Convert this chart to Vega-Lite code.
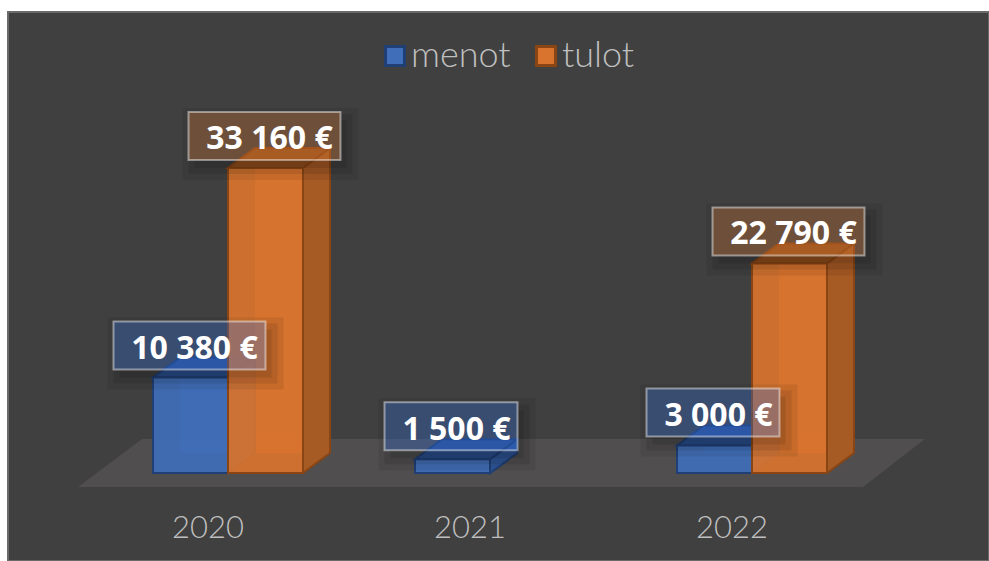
{
"$schema":"https://vega.github.io/schema/vega-lite/v6.json",
"width":981,"height":549,
"autosize":{"type":"none"},
"padding":{"left":8,"top":12,"right":0,"bottom":0},
"background":"#ffffff",
"view":{"fill":"#404040","stroke":"#6a6a6a","strokeWidth":2},
"data":{"values":[
{"year":"2020","series":"menot","value":10380,"label":"10 380 €"},
{"year":"2020","series":"tulot","value":33160,"label":"33 160 €"},
{"year":"2021","series":"menot","value":1500,"label":"1 500 €"},
{"year":"2022","series":"menot","value":3000,"label":"3 000 €"},
{"year":"2022","series":"tulot","value":22790,"label":"22 790 €"}
]},
"encoding":{
"x":{"field":"year","type":"nominal","title":null,"scale":{"range":[89,875],"paddingInner":0.4275,"paddingOuter":0.21375},"axis":{"offset":-24,"domain":false,"ticks":false,"labelAngle":0,"labelFont":"Lato","labelFontWeight":300,"labelFontSize":31,"labelColor":"#bfbfbf","labelPadding":0,"labelOffset":-20,"labelBaseline":"alphabetic","grid":false}},
"xOffset":{"field":"series","type":"nominal","scale":{"domain":["menot","tulot"],"padding":0,"paddingInner":0,"paddingOuter":0}},
"y":{"field":"value","type":"quantitative","title":null,"scale":{"domain":[0,43489],"range":[461,61],"nice":false,"zero":false},"axis":null}
},
"layer":[
{"transform":[{"filter":"datum.year=='2021'"}],
 "mark":{"type":"point","filled":true,"size":4,"opacity":1,"shape":"M-374.5,14L410.5,14L472.5,-34L-310.5,-34Z","fill":"#504e4e"},
 "encoding":{"y":{"datum":0}}},
{"mark":{"type":"bar","width":75,"yOffset":-20,"y2Offset":-20,"opacity":0.9},
 "encoding":{"xOffset":{"value":{"expr":"datum.series=='menot'?64.5:139.5"}},"y2":{"datum":0},"fill":{"field":"series","scale":{"domain":["menot","tulot"],"range":["#3a62a8","#c96a28"]},"legend":null}}},
{"transform":[{"filter":"datum.value>=3000"}],
 "mark":{"type":"bar","width":27,"y2Offset":-20},
 "encoding":{"xOffset":{"value":{"expr":"datum.series=='menot'?88.5:163.5"}},"y2":{"datum":0},"fill":{"field":"series","scale":{"domain":["menot","tulot"],"range":["#2f5597","#a65a24"]},"legend":null}}},
{"transform":[{"filter":"datum.value>=3000"}],
 "mark":{"type":"point","filled":true,"size":4,"opacity":1,"shape":"M37.5,0L64.5,-20L64.5,0Z"},
 "encoding":{"fill":{"field":"series","scale":{"domain":["menot","tulot"],"range":["#2f5597","#a65a24"]},"legend":null}}},
{"transform":[{"filter":"datum.value>=3000"}],
 "mark":{"type":"point","filled":true,"size":4,"opacity":1,"shape":"M37.5,0L64.5,-20L37.5,-20Z"},
 "encoding":{"y":{"datum":0},"fill":{"field":"series","scale":{"domain":["menot","tulot"],"range":["#2f5597","#a65a24"]},"legend":null}}},
{"transform":[{"filter":"datum.value<3000"}],
 "mark":{"type":"point","filled":true,"size":4,"opacity":1,"strokeWidth":2,"shape":"M37.5,0L37.5,14L64.5,-6L64.5,-20Z"},
 "encoding":{"fill":{"field":"series","scale":{"domain":["menot","tulot"],"range":["#2f5597","#a65a24"]},"legend":null},"stroke":{"field":"series","scale":{"domain":["menot","tulot"],"range":["#203f75","#8a4514"]},"legend":null}}},
{"transform":[{"filter":"datum.value>=3000"}],
 "mark":{"type":"bar","width":2,"yOffset":-20,"y2Offset":-20},
 "encoding":{"xOffset":{"value":{"expr":"datum.series=='menot'?102:177"}},"y2":{"datum":0},"fill":{"field":"series","scale":{"domain":["menot","tulot"],"range":["#203f75","#8a4514"]},"legend":null}}},
{"transform":[{"filter":"datum.value>=3000"}],
 "mark":{"type":"point","filled":false,"size":4,"opacity":1,"strokeWidth":2,"shape":"M37.5,0L64.5,-20"},
 "encoding":{"y":{"datum":0},"stroke":{"field":"series","scale":{"domain":["menot","tulot"],"range":["#203f75","#8a4514"]},"legend":null}}},
{"mark":{"type":"point","filled":true,"size":4,"opacity":1,"strokeWidth":2,"shape":"M-37.5,0L37.5,0L64.5,-20L-10.5,-20Z"},
 "encoding":{"fill":{"field":"series","scale":{"domain":["menot","tulot"],"range":["#2c4f8f","#95511f"]},"legend":null},"stroke":{"field":"series","scale":{"domain":["menot","tulot"],"range":["#203f75","#8a4514"]},"legend":null}}},
{"mark":{"type":"bar","width":75,"strokeWidth":2,"fillOpacity":0.93},
 "encoding":{"y2":{"datum":0},
  "fill":{"field":"series","title":null,"scale":{"domain":["menot","tulot"],"range":["#416eb8","#d8742e"]},"legend":{"orient":"none","legendX":369,"legendY":26,"direction":"horizontal","columns":2,"title":null,"symbolType":"square","symbolSize":361,"symbolStrokeWidth":3,"symbolOpacity":1,"labelFont":"Lato","labelFontWeight":300,"labelFontSize":36,"labelColor":"#bfbfbf","labelOffset":-2,"columnPadding":17,"labelLimit":200}},
  "stroke":{"field":"series","title":null,"scale":{"domain":["menot","tulot"],"range":["#203f75","#8a4514"]}}}},
{"transform":[{"filter":"datum.value>=10000"}],"mark":{"type":"point","filled":true,"size":4,"opacity":0.07,"fill":"#000000","shape":"M-83,-60L93,-60L93,12L-83,12Z M-77,-56L-77,-8L75,-8L75,-56Z"}},
{"transform":[{"filter":"datum.value>=10000"}],"mark":{"type":"point","filled":true,"size":4,"opacity":0.09,"fill":"#000000","shape":"M75,-54L87,-54L87,6L-77,6L-77,-8L75,-8Z"}},
{"transform":[{"filter":"datum.value>=10000"}],"mark":{"type":"point","filled":true,"size":4,"opacity":0.09,"fill":"#000000","shape":"M75,-48L81,-48L81,0L-71,0L-71,-8L75,-8Z"}},
{"transform":[{"filter":"datum.value<10000"}],"mark":{"type":"point","filled":true,"size":4,"opacity":0.07,"fill":"#000000","shape":"M-74,-61L83,-61L83,11L-74,11Z M-68,-57L-68,-9L65,-9L65,-57Z"}},
{"transform":[{"filter":"datum.value<10000"}],"mark":{"type":"point","filled":true,"size":4,"opacity":0.09,"fill":"#000000","shape":"M65,-55L77,-55L77,5L-68,5L-68,-9L65,-9Z"}},
{"transform":[{"filter":"datum.value<10000"}],"mark":{"type":"point","filled":true,"size":4,"opacity":0.09,"fill":"#000000","shape":"M65,-49L71,-49L71,-1L-62,-1L-62,-9L65,-9Z"}},
{"transform":[{"filter":"datum.value>=10000"}],
 "mark":{"type":"point","filled":true,"size":4,"opacity":1,"fillOpacity":0.32,"stroke":"#ffffff","strokeOpacity":0.45,"strokeWidth":2,"shape":"M-77,-56L75,-56L75,-8L-77,-8Z"},
 "encoding":{"fill":{"field":"series","scale":{"domain":["menot","tulot"],"range":["#2d69d6","#d07230"]},"legend":null}}},
{"transform":[{"filter":"datum.value<10000"}],
 "mark":{"type":"point","filled":true,"size":4,"opacity":1,"fillOpacity":0.32,"stroke":"#ffffff","strokeOpacity":0.45,"strokeWidth":2,"shape":"M-68,-57L65,-57L65,-9L-68,-9Z"},
 "encoding":{"fill":{"field":"series","scale":{"domain":["menot","tulot"],"range":["#2d69d6","#d07230"]},"legend":null}}},
{"mark":{"type":"text","font":"Open Sans","fontWeight":"bold","fontSize":32,"color":"#ffffff","dx":4,"dy":-19,"baseline":"alphabetic","align":"center"},
 "encoding":{"text":{"field":"label"}}}
],
"resolve":{"scale":{"fill":"independent","stroke":"independent"}}
}
